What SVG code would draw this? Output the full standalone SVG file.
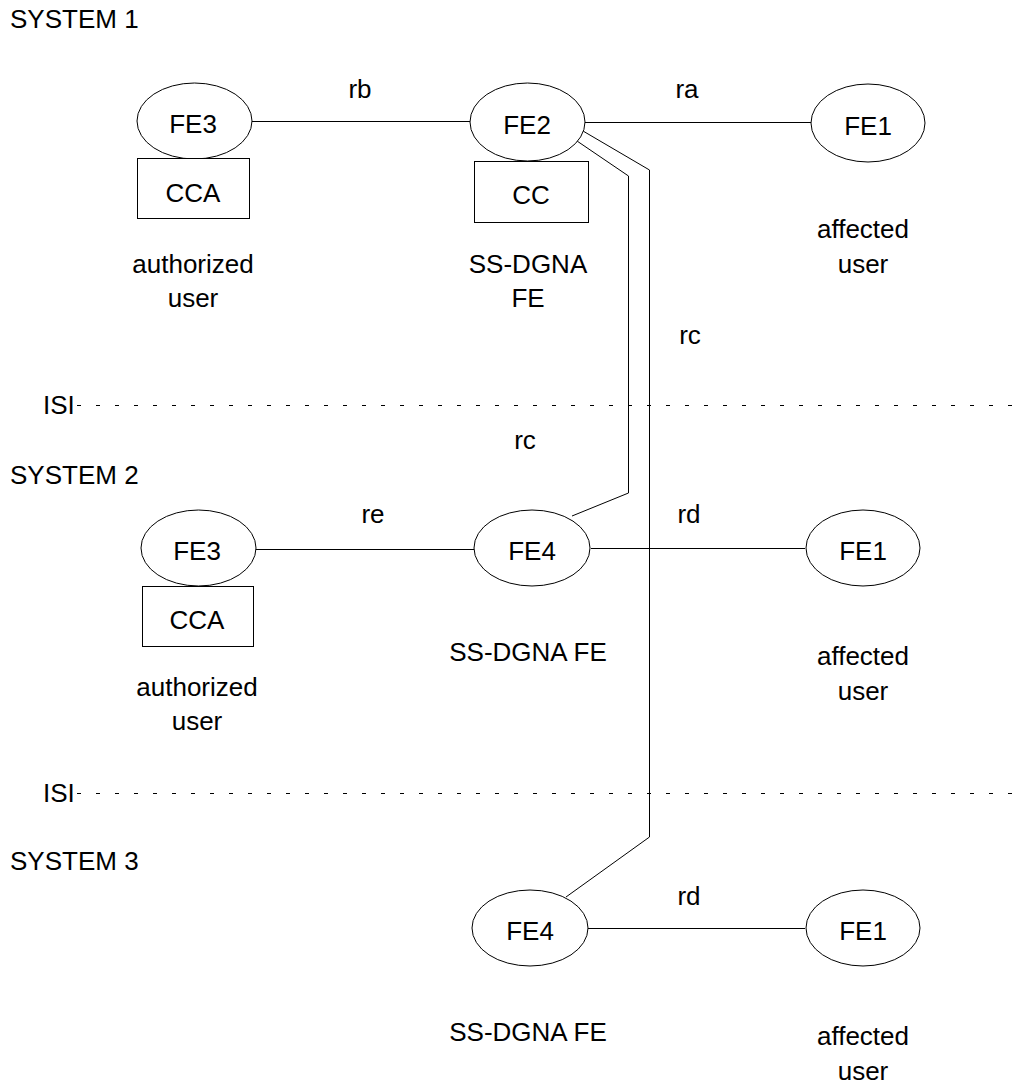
<svg xmlns="http://www.w3.org/2000/svg" width="1015" height="1086" viewBox="0 0 1015 1086">
<style>
text{font-family:"Liberation Sans",Arial,sans-serif;font-size:26px;fill:#000}
.c{text-anchor:middle}
.n ellipse,.n rect{fill:#fff;stroke:#000;stroke-width:1}
.ln{fill:none;stroke:#000;stroke-width:1}
.isi{stroke:#000;stroke-width:1;stroke-dasharray:4 15}
</style>
<rect width="1015" height="1086" fill="#fff"/>
<g id="labels">
<text x="10" y="28">SYSTEM 1</text>
<text x="10" y="484">SYSTEM 2</text>
<text x="10" y="870">SYSTEM 3</text>
<text x="43" y="414">ISI</text>
<text x="43" y="802">ISI</text>
</g>
<g id="isi-lines">
<line class="isi" x1="77" y1="405.5" x2="1015" y2="405.5"/>
<line class="isi" x1="77" y1="793.5" x2="1015" y2="793.5"/>
</g>
<g id="connectors">
<line class="ln" x1="252" y1="121.5" x2="470" y2="121.5"/>
<line class="ln" x1="585" y1="122.5" x2="811" y2="122.5"/>
<polyline class="ln" points="583,131 649.5,170 649.5,837 566,897"/>
<polyline class="ln" points="577,141 628.5,176 628.5,493 572,516"/>
<line class="ln" x1="256" y1="549.5" x2="474" y2="549.5"/>
<line class="ln" x1="591" y1="548.5" x2="805" y2="548.5"/>
<line class="ln" x1="588" y1="928.5" x2="805" y2="928.5"/>
<text class="c" x="360" y="98">rb</text>
<text class="c" x="687" y="98">ra</text>
<text class="c" x="690" y="344">rc</text>
<text class="c" x="525" y="449">rc</text>
<text class="c" x="373" y="523">re</text>
<text class="c" x="689" y="523">rd</text>
<text class="c" x="689" y="905">rd</text>
</g>
<g id="s1-fe3" class="n">
<ellipse cx="194.5" cy="121" rx="57.5" ry="38"/>
<rect x="137.5" y="158.5" width="112" height="60"/>
<text class="c" x="193" y="133">FE3</text>
<text class="c" x="193" y="202">CCA</text>
<text class="c" x="193" y="273">authorized</text>
<text class="c" x="193" y="307">user</text>
</g>
<g id="s1-fe2" class="n">
<ellipse cx="527.5" cy="122" rx="57.5" ry="39"/>
<rect x="474.5" y="161.5" width="114" height="61"/>
<text class="c" x="527" y="134">FE2</text>
<text class="c" x="531" y="204">CC</text>
<text class="c" x="528" y="273">SS-DGNA</text>
<text class="c" x="528" y="307">FE</text>
</g>
<g id="s1-fe1" class="n">
<ellipse cx="868" cy="123" rx="57" ry="39"/>
<text class="c" x="868" y="135">FE1</text>
<text class="c" x="863" y="238">affected</text>
<text class="c" x="863" y="273">user</text>
</g>
<g id="s2-fe3" class="n">
<ellipse cx="198.5" cy="548" rx="57.5" ry="38"/>
<rect x="142.5" y="586.5" width="111" height="60"/>
<text class="c" x="197" y="560">FE3</text>
<text class="c" x="197" y="629">CCA</text>
<text class="c" x="197" y="696">authorized</text>
<text class="c" x="197" y="730">user</text>
</g>
<g id="s2-fe4" class="n">
<ellipse cx="532" cy="548" rx="58" ry="38"/>
<text class="c" x="532" y="560">FE4</text>
<text class="c" x="528" y="661">SS-DGNA FE</text>
</g>
<g id="s2-fe1" class="n">
<ellipse cx="863" cy="548" rx="57" ry="38"/>
<text class="c" x="863" y="560">FE1</text>
<text class="c" x="863" y="665">affected</text>
<text class="c" x="863" y="700">user</text>
</g>
<g id="s3-fe4" class="n">
<ellipse cx="530" cy="928" rx="58" ry="38"/>
<text class="c" x="530" y="940">FE4</text>
<text class="c" x="528" y="1041">SS-DGNA FE</text>
</g>
<g id="s3-fe1" class="n">
<ellipse cx="863" cy="928" rx="57" ry="38"/>
<text class="c" x="863" y="940">FE1</text>
<text class="c" x="863" y="1045">affected</text>
<text class="c" x="863" y="1080">user</text>
</g>
</svg>
